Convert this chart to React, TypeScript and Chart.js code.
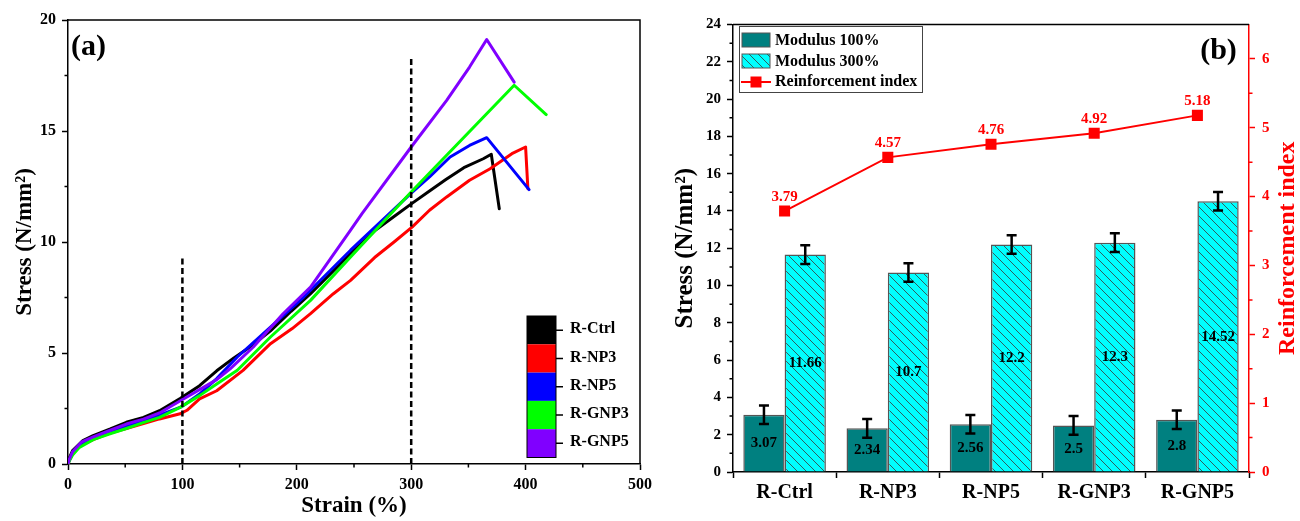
import React, { useEffect, useRef } from "react";
import { Chart, registerables } from "chart.js";
Chart.register(...registerables);

const FONT = '"Liberation Serif", "Times New Roman", Times, serif';

// ---------- Panel (a): stress-strain curves ----------
const seriesNames = ["R-Ctrl", "R-NP3", "R-NP5", "R-GNP3", "R-GNP5"];
const seriesColors = ["#000000", "#FF0000", "#0000FF", "#00FF00", "#8000FF"];

const ctrlStrain = [0, 1, 4, 13, 22, 37, 51, 66, 80, 98, 115, 130, 145, 160, 177, 195, 212, 230, 247, 268, 285, 301, 316, 330, 346, 363, 370, 377];
const ctrlStress = [0, 0.25, 0.6, 1.05, 1.28, 1.58, 1.88, 2.1, 2.4, 2.95, 3.53, 4.2, 4.78, 5.3, 6.0, 6.88, 7.67, 8.6, 9.48, 10.5, 11.15, 11.75, 12.3, 12.8, 13.35, 13.75, 13.95, 11.5];

const np3Strain = [0, 1, 4, 10, 22, 36, 51, 66, 80, 98, 104, 115, 130, 153, 177, 196, 212, 232, 247, 268, 285, 301, 316, 331, 351, 369, 388, 400, 402];
const np3Stress = [0, 0.15, 0.45, 0.8, 1.1, 1.38, 1.6, 1.82, 2.03, 2.26, 2.42, 2.93, 3.3, 4.22, 5.42, 6.1, 6.77, 7.67, 8.27, 9.3, 10.0, 10.68, 11.43, 12.03, 12.78, 13.3, 13.98, 14.28, 12.4];

const np5Strain = [0, 1, 4, 10, 22, 37, 51, 66, 80, 99, 115, 130, 148, 177, 206, 247, 270, 300, 316, 334, 351, 366, 403];
const np5Stress = [0, 0.15, 0.5, 0.85, 1.15, 1.45, 1.72, 1.95, 2.2, 2.57, 3.15, 3.85, 4.82, 6.17, 7.52, 9.63, 10.75, 12.2, 12.93, 13.83, 14.35, 14.7, 12.36];

const gnp3Strain = [0, 1, 4, 10, 22, 36, 51, 65, 80, 98, 115, 130, 148, 177, 212, 247, 270, 300, 390, 418];
const gnp3Stress = [0, 0.12, 0.4, 0.75, 1.1, 1.35, 1.6, 1.85, 2.1, 2.55, 3.08, 3.6, 4.22, 5.72, 7.37, 9.33, 10.6, 12.25, 17.06, 15.74];

const gnp5Strain = [0, 1, 4, 12, 22, 37, 51, 66, 80, 99, 115, 130, 142, 162, 188, 212, 247, 257, 300, 331, 351, 366, 390];
const gnp5Stress = [0, 0.2, 0.55, 1.0, 1.22, 1.52, 1.8, 2.02, 2.3, 2.87, 3.35, 3.8, 4.3, 5.27, 6.77, 7.97, 10.53, 11.28, 14.28, 16.38, 17.88, 19.12, 17.2];

const guide100Strain = [100, 100];
const guide100Stress = [0, 9.3];
const guide300Strain = [300, 300];
const guide300Stress = [0, 18.35];

const strainTicks = [0, 100, 200, 300, 400, 500];
const strainMinor = [50, 150, 250, 350, 450];
const stressTicks = [0, 5, 10, 15, 20];
const stressMinor = [2.5, 7.5, 12.5, 17.5];

// ---------- Panel (b): moduli & reinforcement index ----------
const samples = ["R-Ctrl", "R-NP3", "R-NP5", "R-GNP3", "R-GNP5"];
const modulus100 = [3.07, 2.34, 2.56, 2.5, 2.8];
const modulus100Err = [0.5, 0.5, 0.5, 0.5, 0.5];
const modulus300 = [11.66, 10.7, 12.2, 12.3, 14.52];
const modulus300Err = [0.5, 0.5, 0.5, 0.5, 0.5];
const reinforcementIndex = [3.79, 4.57, 4.76, 4.92, 5.18];

const stressTicksB = [0, 2, 4, 6, 8, 10, 12, 14, 16, 18, 20, 22, 24];
const stressMinorB = [1, 3, 5, 7, 9, 11, 13, 15, 17, 19, 21, 23];
const riTicks = [0, 1, 2, 3, 4, 5, 6];
const riMinor = [0.5, 1.5, 2.5, 3.5, 4.5, 5.5];

const toXY = (xs: number[], ys: number[]) => xs.map((x, i) => ({ x, y: ys[i] }));

function drawMinor(ctx: any, scale: any, values: number[], len: number, color: string, side: string) {
  ctx.save();
  ctx.strokeStyle = color;
  ctx.lineWidth = 1.5;
  ctx.beginPath();
  for (const v of values) {
    const p = scale.getPixelForValue(v);
    if (side === "bottom") {
      ctx.moveTo(p, scale.top);
      ctx.lineTo(p, scale.top + len);
    } else if (side === "left") {
      ctx.moveTo(scale.right, p);
      ctx.lineTo(scale.right - len, p);
    } else {
      ctx.moveTo(scale.left, p);
      ctx.lineTo(scale.left + len, p);
    }
  }
  ctx.stroke();
  ctx.restore();
}

function makeHatch(ctx: CanvasRenderingContext2D) {
  const s = 9;
  const c = document.createElement("canvas");
  c.width = s;
  c.height = s;
  const g = c.getContext("2d")!;
  g.fillStyle = "#00FFFF";
  g.fillRect(0, 0, s, s);
  g.strokeStyle = "#2F5F5F";
  g.lineWidth = 1;
  g.beginPath();
  g.moveTo(0, 0);
  g.lineTo(s, s);
  g.moveTo(-2, s - 2);
  g.lineTo(2, s + 2);
  g.moveTo(s - 2, -2);
  g.lineTo(s + 2, 2);
  g.stroke();
  return ctx.createPattern(c, "repeat")!;
}

const tickFont = (size: number) => ({ family: FONT, size, weight: "bold" as const });

export default function App() {
  const refA = useRef<HTMLCanvasElement>(null);
  const refB = useRef<HTMLCanvasElement>(null);

  useEffect(() => {
    const charts: Chart[] = [];
    const curveSets = [
      [ctrlStrain, ctrlStress],
      [np3Strain, np3Stress],
      [np5Strain, np5Stress],
      [gnp3Strain, gnp3Stress],
      [gnp5Strain, gnp5Stress],
    ];

    // ----- Chart A -----
    const pluginA = {
      id: "decorA",
      afterDraw(chart: any) {
        const { ctx, chartArea: ca, scales } = chart;
        ctx.save();
        ctx.strokeStyle = "#000";
        ctx.lineWidth = 1.5;
        ctx.beginPath();
        ctx.moveTo(ca.left, ca.top);
        ctx.lineTo(ca.right, ca.top);
        ctx.lineTo(ca.right, ca.bottom);
        ctx.stroke();
        drawMinor(ctx, scales.x, strainMinor, 3.5, "#000", "bottom");
        drawMinor(ctx, scales.y, stressMinor, 3.5, "#000", "left");

        ctx.fillStyle = "#000";
        ctx.font = `bold 30px ${FONT}`;
        ctx.textAlign = "left";
        ctx.textBaseline = "middle";
        ctx.fillText("(a)", 71, 47);

        // colour block legend
        const lx = 527, ly = 316, lw = 29, bh = 28.3;
        seriesNames.forEach((name, i) => {
          ctx.fillStyle = seriesColors[i];
          ctx.fillRect(lx, ly + i * bh, lw, bh);
        });
        ctx.strokeStyle = "#000";
        ctx.lineWidth = 1;
        ctx.strokeRect(lx, ly, lw, bh * seriesNames.length);
        ctx.lineWidth = 1.5;
        ctx.beginPath();
        seriesNames.forEach((_, i) => {
          const cy = ly + (i + 0.5) * bh;
          ctx.moveTo(lx + lw, cy);
          ctx.lineTo(lx + lw + 7, cy);
        });
        ctx.stroke();
        ctx.fillStyle = "#000";
        ctx.font = `bold 16px ${FONT}`;
        seriesNames.forEach((name, i) => {
          ctx.fillText(name, 570, ly + (i + 0.5) * bh - 1);
        });
        ctx.restore();
      },
    };

    const datasetsA: any[] = curveSets.map((cs, i) => ({
      label: seriesNames[i],
      data: toXY(cs[0], cs[1]),
      borderColor: seriesColors[i],
      borderWidth: 3,
      pointRadius: 0,
      fill: false,
      tension: 0,
      borderJoinStyle: "round",
      borderCapStyle: "round",
      order: 5 - i,
    }));
    [
      [guide100Strain, guide100Stress],
      [guide300Strain, guide300Stress],
    ].forEach((g) => {
      datasetsA.push({
        label: "guide",
        data: toXY(g[0], g[1]),
        borderColor: "#000",
        borderWidth: 2.5,
        borderDash: [6, 3.5],
        pointRadius: 0,
        fill: false,
        order: 0,
      });
    });

    const axisCommon = {
      grid: { drawOnChartArea: false, drawTicks: true, tickLength: 6, tickWidth: 1.5, tickColor: "#000" },
      border: { display: true, color: "#000", width: 1.5 },
    };

    charts.push(
      new Chart(refA.current!, {
        type: "line",
        data: { datasets: datasetsA },
        options: {
          responsive: false,
          animation: false,
          devicePixelRatio: 1,
          layout: { padding: { top: 20, right: 25, left: 0, bottom: 0 } },
          plugins: { legend: { display: false }, tooltip: { enabled: false } },
          scales: {
            x: {
              type: "linear",
              min: 0,
              max: 500,
              afterBuildTicks: (s: any) => {
                s.ticks = strainTicks.map((value) => ({ value }));
              },
              afterFit: (s: any) => {
                s.height = 57;
              },
              ...axisCommon,
              ticks: { font: tickFont(16), color: "#000", padding: 5, maxRotation: 0, autoSkip: false },
              title: {
                display: true,
                text: "Strain (%)",
                color: "#000",
                font: { family: FONT, size: 23, weight: "bold" },
                padding: { top: 0, bottom: 1 },
              },
            },
            y: {
              type: "linear",
              min: 0,
              max: 20,
              afterBuildTicks: (s: any) => {
                s.ticks = stressTicks.map((value) => ({ value }));
              },
              afterFit: (s: any) => {
                s.width = 68;
              },
              ...axisCommon,
              ticks: { font: tickFont(16), color: "#000", padding: 6 },
              title: {
                display: true,
                text: "Stress (N/mm²)",
                color: "#000",
                font: { family: FONT, size: 23, weight: "bold" },
                padding: { top: 11, bottom: 0 },
              },
            },
          },
        } as any,
        plugins: [pluginA],
      })
    );

    // ----- Chart B -----
    const ctxB = refB.current!.getContext("2d")!;
    const hatch = makeHatch(ctxB);

    const pluginB = {
      id: "decorB",
      afterDatasetsDraw(chart: any) {
        const { ctx, scales } = chart;
        ctx.save();
        // error bars
        const errs = [modulus100Err, modulus300Err];
        const vals = [modulus100, modulus300];
        ctx.strokeStyle = "#000";
        ctx.lineWidth = 2.5;
        [0, 1].forEach((di) => {
          const meta = chart.getDatasetMeta(di);
          meta.data.forEach((bar: any, i: number) => {
            const x = bar.x;
            const yt = scales.y.getPixelForValue(vals[di][i] + errs[di][i]);
            const yb = scales.y.getPixelForValue(vals[di][i] - errs[di][i]);
            ctx.beginPath();
            ctx.moveTo(x, yt);
            ctx.lineTo(x, yb);
            ctx.moveTo(x - 5, yt);
            ctx.lineTo(x + 5, yt);
            ctx.moveTo(x - 5, yb);
            ctx.lineTo(x + 5, yb);
            ctx.stroke();
          });
        });
        // bar value labels
        ctx.fillStyle = "#000";
        ctx.font = `bold 15px ${FONT}`;
        ctx.textAlign = "center";
        ctx.textBaseline = "middle";
        [0, 1].forEach((di) => {
          const meta = chart.getDatasetMeta(di);
          meta.data.forEach((bar: any, i: number) => {
            ctx.fillText(String(vals[di][i]), bar.x, scales.y.getPixelForValue(vals[di][i] / 2));
          });
        });
        // reinforcement index labels
        const lm = chart.getDatasetMeta(2);
        ctx.fillStyle = "#FF0000";
        lm.data.forEach((pt: any, i: number) => {
          ctx.fillText(String(reinforcementIndex[i]), pt.x, pt.y - 14);
        });
        ctx.restore();
      },
      afterDraw(chart: any) {
        const { ctx, chartArea: ca, scales } = chart;
        ctx.save();
        ctx.strokeStyle = "#000";
        ctx.lineWidth = 1.5;
        ctx.beginPath();
        ctx.moveTo(ca.left, ca.top);
        ctx.lineTo(ca.right, ca.top);
        ctx.stroke();
        drawMinor(ctx, scales.y, stressMinorB, 3.5, "#000", "left");
        drawMinor(ctx, scales.y1, riMinor, 3.5, "#FF0000", "right");

        // legend
        ctx.strokeStyle = "#444";
        ctx.lineWidth = 1;
        ctx.strokeRect(89.5, 26.5, 183, 66);
        ctx.fillStyle = "#008080";
        ctx.fillRect(92, 33, 28, 14);
        ctx.strokeStyle = "#555";
        ctx.strokeRect(92, 33, 28, 14);
        ctx.fillStyle = hatch;
        ctx.fillRect(92, 54, 28, 14);
        ctx.strokeRect(92, 54, 28, 14);
        ctx.strokeStyle = "#FF0000";
        ctx.lineWidth = 2;
        ctx.beginPath();
        ctx.moveTo(91, 82);
        ctx.lineTo(121, 82);
        ctx.stroke();
        ctx.fillStyle = "#FF0000";
        ctx.fillRect(106 - 5.5, 82 - 5.5, 11, 11);
        ctx.fillStyle = "#000";
        ctx.font = `bold 16px ${FONT}`;
        ctx.textAlign = "left";
        ctx.textBaseline = "middle";
        ctx.fillText("Modulus 100%", 125, 40.5);
        ctx.fillText("Modulus 300%", 125, 61.5);
        ctx.fillText("Reinforcement index", 125, 82);

        ctx.font = `bold 30px ${FONT}`;
        ctx.textAlign = "center";
        ctx.fillText("(b)", 568.5, 51);

        // right axis title (reads bottom-to-top)
        ctx.translate(638, (ca.top + ca.bottom) / 2);
        ctx.rotate(-Math.PI / 2);
        ctx.fillStyle = "#FF0000";
        ctx.font = `bold 24px ${FONT}`;
        ctx.fillText("Reinforcement index", 0, 0);
        ctx.restore();
      },
    };

    charts.push(
      new Chart(refB.current!, {
        type: "bar",
        data: {
          labels: samples,
          datasets: [
            {
              type: "bar",
              label: "Modulus 100%",
              data: modulus100,
              backgroundColor: "#008080",
              borderColor: "#555555",
              borderWidth: 1.5,
              yAxisID: "y",
              order: 1,
            },
            {
              type: "bar",
              label: "Modulus 300%",
              data: modulus300,
              backgroundColor: hatch,
              borderColor: "#555555",
              borderWidth: 1.5,
              yAxisID: "y",
              order: 1,
            },
            {
              type: "line",
              label: "Reinforcement index",
              data: reinforcementIndex,
              borderColor: "#FF0000",
              borderWidth: 2,
              pointStyle: "rect",
              pointRadius: 7.8,
              pointBackgroundColor: "#FF0000",
              pointBorderWidth: 0,
              yAxisID: "y1",
              order: 0,
            },
          ],
        } as any,
        options: {
          responsive: false,
          animation: false,
          devicePixelRatio: 1,
          layout: { padding: { top: 24.5, right: 0, left: 0, bottom: 0 } },
          plugins: { legend: { display: false }, tooltip: { enabled: false } },
          datasets: { bar: { categoryPercentage: 0.8, barPercentage: 1.0 } },
          scales: {
            x: {
              type: "category",
              offset: true,
              afterFit: (s: any) => {
                s.height = 49;
              },
              grid: { offset: true, drawOnChartArea: false, drawTicks: true, tickLength: 6, tickWidth: 1.5, tickColor: "#000" },
              border: { display: true, color: "#000", width: 1.5 },
              ticks: { font: tickFont(20), color: "#000", padding: 3, maxRotation: 0, autoSkip: false },
            },
            y: {
              type: "linear",
              position: "left",
              min: 0,
              max: 24,
              afterBuildTicks: (s: any) => {
                s.ticks = stressTicksB.map((value) => ({ value }));
              },
              afterFit: (s: any) => {
                s.width = 83;
              },
              ...axisCommon,
              ticks: { font: tickFont(15), color: "#000", padding: 6 },
              title: {
                display: true,
                text: "Stress (N/mm²)",
                color: "#000",
                font: { family: FONT, size: 25, weight: "bold" },
                padding: { top: 21, bottom: 0 },
              },
            },
            y1: {
              type: "linear",
              position: "right",
              min: 0,
              max: 6.5,
              afterBuildTicks: (s: any) => {
                s.ticks = riTicks.map((value) => ({ value }));
              },
              afterFit: (s: any) => {
                s.width = 51;
              },
              grid: { drawOnChartArea: false, drawTicks: true, tickLength: 6, tickWidth: 1.5, tickColor: "#FF0000" },
              border: { display: true, color: "#FF0000", width: 1.5 },
              ticks: { font: tickFont(15), color: "#FF0000", padding: 7 },
              title: { display: false },
            },
          },
        } as any,
        plugins: [pluginB],
      })
    );

    return () => charts.forEach((c) => c.destroy());
  }, []);

  return (
    <div style={{ position: "absolute", left: 0, top: 0, width: 1300, height: 521, background: "#fff" }}>
      <canvas ref={refA} width={665} height={521} style={{ position: "absolute", left: 0, top: 0, width: 665, height: 521 }} />
      <canvas ref={refB} width={650} height={521} style={{ position: "absolute", left: 650, top: 0, width: 650, height: 521 }} />
    </div>
  );
}
